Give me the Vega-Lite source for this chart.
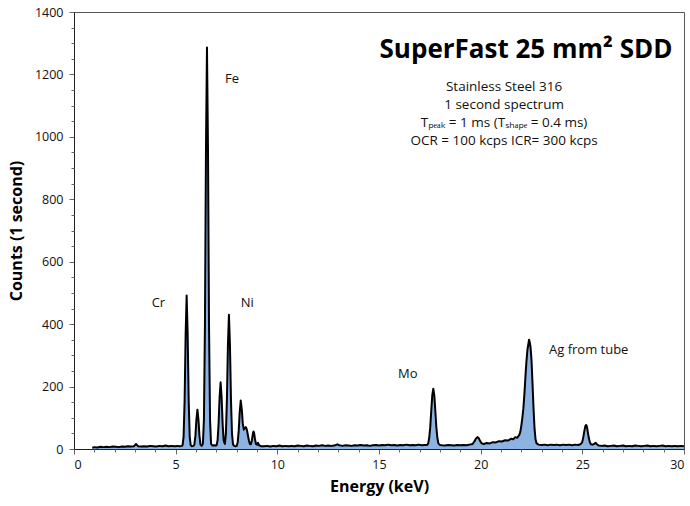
{
  "$schema": "https://vega.github.io/schema/vega-lite/v6.json",
  "width": 610,
  "height": 437,
  "autosize": "none",
  "padding": {"left": 74, "top": 12, "right": 6, "bottom": 57},
  "config": {
    "font": "Open Sans",
    "view": {"stroke": "#555", "strokeWidth": 1},
    "axis": {"grid": false, "domainColor": "#222", "tickColor": "#666", "labelColor": "#111", "titleColor": "#000", "labelFont": "Open Sans", "titleFont": "Open Sans"}
  },
  "resolve": {"axis": {"x": "independent", "y": "independent"}},
  "datasets": {
    "spectrum": [
      {"e":0.9,"c":4},{"e":1.0,"c":6},{"e":1.15,"c":5},{"e":1.3,"c":7},{"e":1.45,"c":6},{"e":1.6,"c":7},{"e":1.75,"c":6},{"e":1.9,"c":8},{"e":2.05,"c":7},{"e":2.2,"c":6},{"e":2.35,"c":8},{"e":2.5,"c":7},{"e":2.65,"c":9},{"e":2.8,"c":8},{"e":2.95,"c":9},{"e":3.05,"c":16},{"e":3.15,"c":9},{"e":3.3,"c":8},{"e":3.45,"c":9},{"e":3.6,"c":8},{"e":3.75,"c":10},{"e":3.9,"c":9},{"e":4.05,"c":8},{"e":4.2,"c":10},{"e":4.35,"c":9},{"e":4.5,"c":11},{"e":4.65,"c":9},{"e":4.8,"c":10},{"e":4.95,"c":9},{"e":5.1,"c":10},{"e":5.2,"c":9},{"e":5.3,"c":10},
      {"e":5.34,"c":12},{"e":5.39,"c":40},{"e":5.44,"c":155},{"e":5.49,"c":367},{"e":5.54,"c":492},{"e":5.59,"c":367},{"e":5.64,"c":155},{"e":5.69,"c":40},{"e":5.74,"c":12},{"e":5.8,"c":9},{"e":5.87,"c":10},
      {"e":5.92,"c":14},{"e":5.97,"c":42},{"e":6.02,"c":94},{"e":6.07,"c":126},{"e":6.12,"c":94},{"e":6.17,"c":42},{"e":6.22,"c":14},{"e":6.28,"c":10},
      {"e":6.34,"c":17},{"e":6.39,"c":94},{"e":6.44,"c":398},{"e":6.49,"c":957},{"e":6.54,"c":1286},{"e":6.59,"c":957},{"e":6.64,"c":398},{"e":6.69,"c":94},{"e":6.74,"c":17},{"e":6.8,"c":11},{"e":6.9,"c":12},{"e":6.97,"c":11},
      {"e":7.01,"c":12},{"e":7.06,"c":27},{"e":7.11,"c":80},{"e":7.16,"c":165},{"e":7.21,"c":214},{"e":7.26,"c":165},{"e":7.31,"c":80},{"e":7.36,"c":27},{"e":7.42,"c":16},
      {"e":7.47,"c":49},{"e":7.52,"c":158},{"e":7.57,"c":333},{"e":7.62,"c":430},{"e":7.67,"c":333},{"e":7.72,"c":158},{"e":7.77,"c":49},{"e":7.82,"c":15},{"e":7.88,"c":10},{"e":7.95,"c":9},{"e":8.0,"c":10},
      {"e":8.05,"c":21},{"e":8.1,"c":58},{"e":8.15,"c":118},{"e":8.2,"c":155},{"e":8.25,"c":128},{"e":8.3,"c":82},{"e":8.35,"c":62},{"e":8.4,"c":66},{"e":8.45,"c":70},{"e":8.5,"c":63},{"e":8.55,"c":45},{"e":8.6,"c":28},{"e":8.65,"c":16},{"e":8.7,"c":15},{"e":8.75,"c":28},{"e":8.8,"c":50},{"e":8.83,"c":56},{"e":8.86,"c":50},{"e":8.9,"c":32},{"e":8.95,"c":16},{"e":9.0,"c":14},{"e":9.05,"c":20},{"e":9.1,"c":12},{"e":9.2,"c":9},
      {"e":9.35,"c":9},{"e":9.5,"c":10},{"e":9.65,"c":8},{"e":9.8,"c":10},{"e":9.95,"c":9},{"e":10.1,"c":11},{"e":10.25,"c":9},{"e":10.4,"c":10},{"e":10.55,"c":9},{"e":10.7,"c":10},{"e":10.85,"c":9},{"e":11.0,"c":11},{"e":11.15,"c":10},{"e":11.3,"c":9},{"e":11.45,"c":11},{"e":11.6,"c":10},{"e":11.75,"c":9},{"e":11.9,"c":11},{"e":12.05,"c":10},{"e":12.2,"c":12},{"e":12.35,"c":10},{"e":12.5,"c":11},{"e":12.65,"c":10},{"e":12.8,"c":11},{"e":12.95,"c":15},{"e":13.05,"c":12},{"e":13.2,"c":10},{"e":13.35,"c":12},{"e":13.5,"c":11},{"e":13.65,"c":10},{"e":13.8,"c":12},{"e":13.95,"c":11},{"e":14.1,"c":13},{"e":14.25,"c":11},{"e":14.4,"c":12},{"e":14.55,"c":10},{"e":14.7,"c":12},{"e":14.85,"c":13},{"e":15.0,"c":11},{"e":15.15,"c":13},{"e":15.3,"c":12},{"e":15.45,"c":14},{"e":15.6,"c":12},{"e":15.75,"c":13},{"e":15.9,"c":11},{"e":16.05,"c":13},{"e":16.2,"c":12},{"e":16.35,"c":14},{"e":16.5,"c":12},{"e":16.65,"c":13},{"e":16.8,"c":12},{"e":16.95,"c":14},{"e":17.1,"c":12},{"e":17.25,"c":13},{"e":17.37,"c":13},
      {"e":17.42,"c":18},{"e":17.47,"c":36},{"e":17.52,"c":70},{"e":17.57,"c":122},{"e":17.62,"c":172},{"e":17.67,"c":193},{"e":17.72,"c":172},{"e":17.77,"c":122},{"e":17.82,"c":70},{"e":17.87,"c":36},{"e":17.92,"c":18},{"e":17.99,"c":13},
      {"e":18.1,"c":12},{"e":18.25,"c":11},{"e":18.4,"c":13},{"e":18.55,"c":12},{"e":18.7,"c":11},{"e":18.85,"c":13},{"e":19.0,"c":12},{"e":19.15,"c":13},{"e":19.3,"c":12},{"e":19.45,"c":14},{"e":19.6,"c":16},{"e":19.7,"c":25},{"e":19.77,"c":34},{"e":19.84,"c":38},{"e":19.9,"c":35},{"e":19.97,"c":26},{"e":20.05,"c":18},{"e":20.15,"c":16},{"e":20.3,"c":19},{"e":20.45,"c":18},{"e":20.6,"c":22},{"e":20.75,"c":21},{"e":20.9,"c":25},{"e":21.05,"c":24},{"e":21.2,"c":28},{"e":21.35,"c":27},{"e":21.5,"c":33},{"e":21.6,"c":31},{"e":21.7,"c":38},{"e":21.8,"c":36},{"e":21.9,"c":45},{"e":21.95,"c":55},
      {"e":22.0,"c":75},{"e":22.05,"c":100},{"e":22.1,"c":130},{"e":22.15,"c":175},{"e":22.2,"c":230},{"e":22.25,"c":280},{"e":22.3,"c":318},{"e":22.35,"c":338},{"e":22.38,"c":350},{"e":22.42,"c":340},{"e":22.45,"c":328},{"e":22.5,"c":285},{"e":22.55,"c":210},{"e":22.6,"c":130},{"e":22.65,"c":65},{"e":22.7,"c":30},{"e":22.75,"c":18},{"e":22.85,"c":14},
      {"e":23.0,"c":13},{"e":23.15,"c":14},{"e":23.3,"c":12},{"e":23.45,"c":14},{"e":23.6,"c":13},{"e":23.75,"c":14},{"e":23.9,"c":12},{"e":24.05,"c":14},{"e":24.2,"c":13},{"e":24.35,"c":14},{"e":24.5,"c":12},{"e":24.65,"c":14},{"e":24.8,"c":13},{"e":24.9,"c":15},
      {"e":24.95,"c":18},{"e":25.0,"c":23},{"e":25.05,"c":39},{"e":25.1,"c":58},{"e":25.15,"c":74},{"e":25.19,"c":77},{"e":25.23,"c":71},{"e":25.27,"c":54},{"e":25.32,"c":35},{"e":25.37,"c":22},{"e":25.42,"c":15},{"e":25.5,"c":14},{"e":25.58,"c":16},{"e":25.65,"c":20},{"e":25.72,"c":15},{"e":25.8,"c":11},
      {"e":25.95,"c":10},{"e":26.1,"c":11},{"e":26.25,"c":9},{"e":26.4,"c":10},{"e":26.55,"c":11},{"e":26.7,"c":9},{"e":26.85,"c":10},{"e":27.0,"c":11},{"e":27.15,"c":9},{"e":27.3,"c":10},{"e":27.45,"c":9},{"e":27.6,"c":11},{"e":27.75,"c":10},{"e":27.9,"c":9},{"e":28.05,"c":10},{"e":28.2,"c":11},{"e":28.35,"c":9},{"e":28.5,"c":10},{"e":28.65,"c":9},{"e":28.8,"c":10},{"e":28.95,"c":11},{"e":29.1,"c":9},{"e":29.25,"c":10},{"e":29.4,"c":9},{"e":29.55,"c":10},{"e":29.7,"c":9},{"e":29.85,"c":10},{"e":30.0,"c":9}
    ],
    "title": [{"x": 22.23, "y": 1253, "t": "SuperFast 25 mm² SDD"}],
    "info": [
      {"x": 21.15, "y": 1148, "t": "Stainless Steel 316"},
      {"x": 21.15, "y": 1090, "t": "1 second spectrum"},
      {"x": 21.15, "y": 1032, "t": "Tₚₑₐₖ = 1 ms  (Tₛₕₐₚₑ = 0.4 ms)"},
      {"x": 21.15, "y": 974, "t": "OCR = 100 kcps  ICR= 300 kcps"}
    ],
    "labels": [
      {"x": 7.43, "y": 1173, "t": "Fe"},
      {"x": 3.82, "y": 455, "t": "Cr"},
      {"x": 8.2, "y": 455, "t": "Ni"},
      {"x": 15.94, "y": 229, "t": "Mo"},
      {"x": 23.36, "y": 303, "t": "Ag from tube"}
    ]
  },
  "layer": [
    {
      "data": {"name": "spectrum"},
      "mark": {"type": "area", "color": "#8db3e2", "opacity": 1},
      "encoding": {
        "x": {"field": "e", "type": "quantitative", "scale": {"domain": [0, 30], "nice": false},
          "axis": {"values": [0,5,10,15,20,25,30], "labelFontSize": 12.5, "labelPadding": 4, "tickSize": 5, "labelOverlap": false,
            "title": "Energy (keV)", "titleFontSize": 16, "titleFontWeight": "bold", "titlePadding": 8, "orient": "bottom"}},
        "y": {"field": "c", "type": "quantitative", "scale": {"domain": [0, 1400], "nice": false},
          "axis": {"values": [0,200,400,600,800,1000,1200,1400], "labelFontSize": 12.5, "labelPadding": 6, "format": "d", "tickSize": 5, "labelOverlap": false,
            "title": "Counts (1 second)", "titleFontSize": 16, "titleFontWeight": "bold", "titlePadding": 10, "orient": "left"}}
      }
    },
    {
      "data": {"name": "spectrum"},
      "mark": {"type": "line", "color": "#000", "strokeWidth": 2, "strokeJoin": "round"},
      "encoding": {
        "x": {"field": "e", "type": "quantitative",
          "axis": {"orient": "bottom", "values": [1,2,3,4,6,7,8,9,11,12,13,14,16,17,18,19,21,22,23,24,26,27,28,29], "labels": false, "domain": false, "tickSize": 3, "title": null}},
        "y": {"field": "c", "type": "quantitative",
          "axis": {"orient": "left", "values": [50,100,150,250,300,350,450,500,550,650,700,750,850,900,950,1050,1100,1150,1250,1300,1350], "labels": false, "domain": false, "tickSize": 3, "title": null}}
      }
    },
    {
      "data": {"name": "title"},
      "mark": {"type": "text", "fontSize": 26, "fontWeight": "bold", "align": "center", "baseline": "alphabetic", "color": "#000"},
      "encoding": {
        "x": {"field": "x", "type": "quantitative", "axis": null},
        "y": {"field": "y", "type": "quantitative", "axis": null},
        "text": {"field": "t"}
      }
    },
    {
      "data": {"name": "info"},
      "mark": {"type": "text", "fontSize": 13.5, "align": "center", "baseline": "alphabetic", "color": "#111"},
      "encoding": {
        "x": {"field": "x", "type": "quantitative", "axis": null},
        "y": {"field": "y", "type": "quantitative", "axis": null},
        "text": {"field": "t"}
      }
    },
    {
      "data": {"name": "labels"},
      "mark": {"type": "text", "fontSize": 13, "align": "left", "baseline": "alphabetic", "color": "#111"},
      "encoding": {
        "x": {"field": "x", "type": "quantitative", "axis": null},
        "y": {"field": "y", "type": "quantitative", "axis": null},
        "text": {"field": "t"}
      }
    }
  ]
}
